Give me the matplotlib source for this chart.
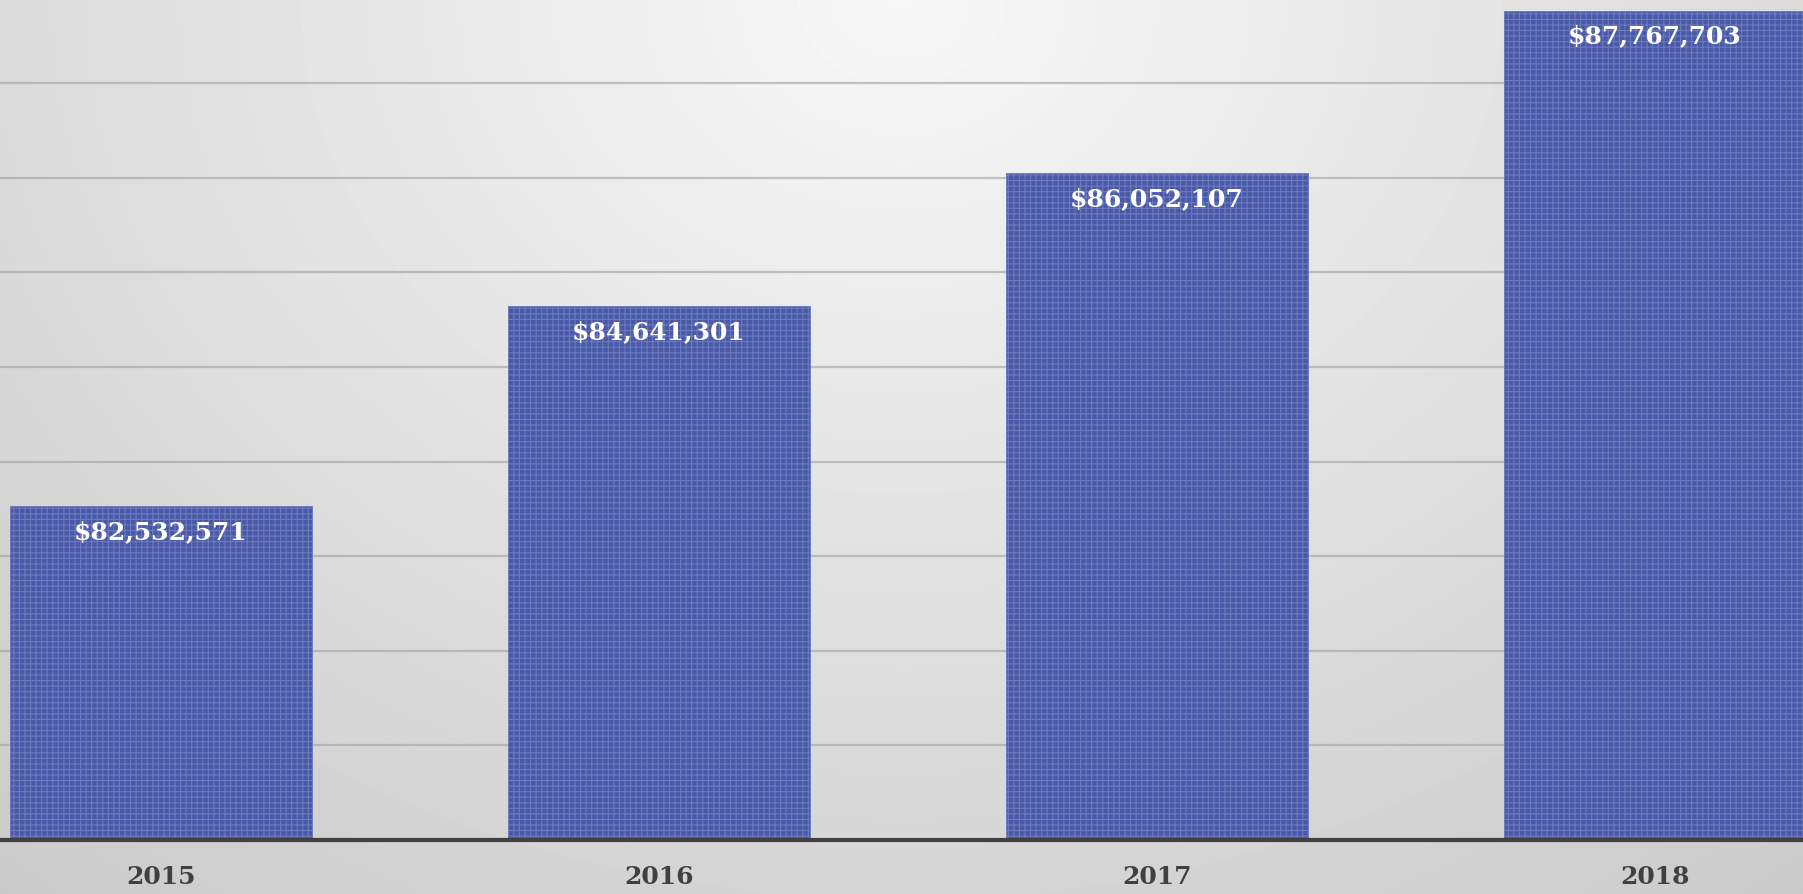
import numpy as np
import matplotlib
matplotlib.use("Agg")
import matplotlib.pyplot as plt

# %% Data

years = ["2015", "2016", "2017", "2018"]
totals = [82532571, 84641301, 86052107, 87767703]
labels = ["$82,532,571", "$84,641,301", "$86,052,107", "$87,767,703"]

# %% Figure with a soft radial grey background

plt.rcParams['hatch.color'] = '#8592cf'
plt.rcParams['hatch.linewidth'] = 0.8

fig = plt.figure(figsize=(18.03, 8.94), dpi=100)

bg_ax = fig.add_axes([0, 0, 1, 1], zorder=-1)
gx, gy = np.meshgrid(np.linspace(-1, 1, 400), np.linspace(0, 1, 200))
dist = np.sqrt((gx / 1.15) ** 2 + (gy / 0.95) ** 2)
shade = 0.97 - 0.13 * dist
bg_ax.imshow(shade, cmap='gray', vmin=0, vmax=1, aspect='auto',
             extent=[0, 1, 0, 1], origin='upper', interpolation='bicubic')
bg_ax.axis('off')

ax = fig.add_axes([0, 54 / 894, 1, 840 / 894])
ax.patch.set_alpha(0)

x = np.arange(len(years))
bars = ax.bar(x, totals, width=0.606, color='#4a59a7', edgecolor='#6b79bd',
              linewidth=0.6, hatch='+++', zorder=3)

# value labels inside the top of each bar
for xi, val, txt in zip(x, totals, labels):
    ax.annotate(txt, (xi, val), xytext=(0, -10), textcoords='offset points',
                ha='center', va='top', color='white', fontsize=18,
                fontweight='bold', family='DejaVu Serif', zorder=4)

ax.set_xlim(-0.323, 3.297)
ax.set_ylim(79e6, 87.88e6)
ax.set_yticks(np.arange(80e6, 88e6, 1e6))
ax.yaxis.grid(True, color='#a0a0a0', linewidth=1.6, alpha=0.6, zorder=0)
ax.set_axisbelow(True)
ax.tick_params(axis='y', left=False, labelleft=False)
ax.tick_params(axis='x', length=0, pad=18)
ax.set_xticks(x)
ax.set_xticklabels(years, fontsize=18, fontweight='bold', family='DejaVu Serif',
                   color='#404040')

for side in ['top', 'right', 'left']:
    ax.spines[side].set_visible(False)
ax.spines['bottom'].set_color('#404040')
ax.spines['bottom'].set_linewidth(3)
ax.spines['bottom'].set_zorder(5)

plt.savefig("out.png", dpi=100)
